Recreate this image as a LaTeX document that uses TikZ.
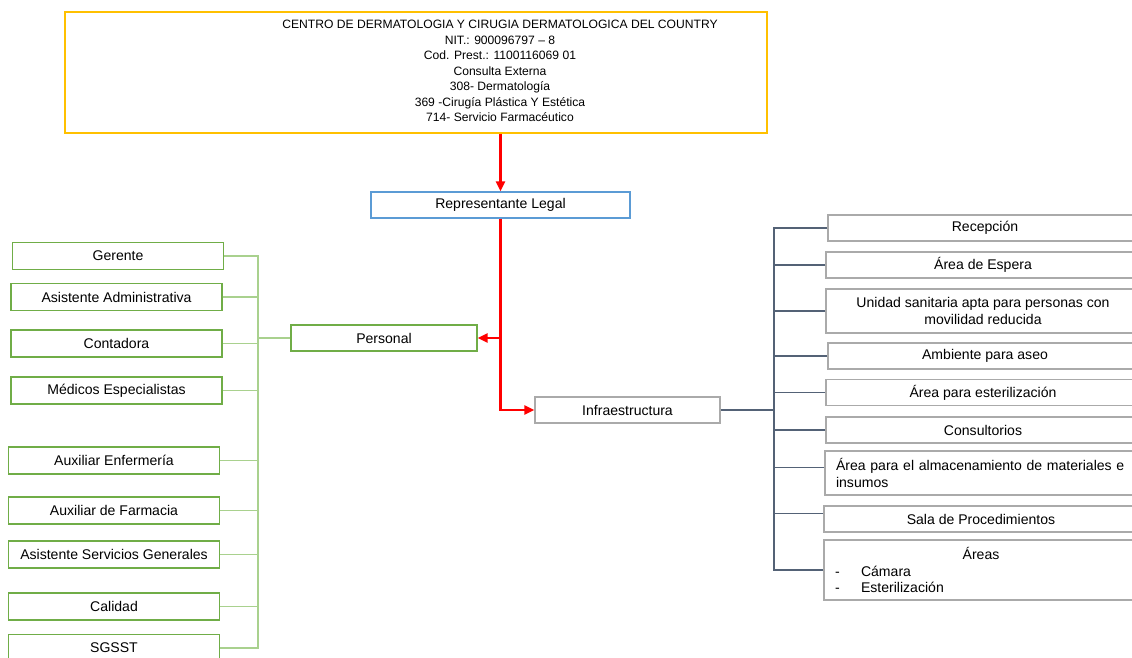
\documentclass[tikz,border=0pt]{standalone}
\usepackage{fontspec}
\setmainfont{Liberation Sans}
\usepackage{tikz}
\definecolor{orgyellow}{RGB}{255, 192, 0}
\definecolor{repblue}{RGB}{91, 155, 213}
\definecolor{staffgreen}{RGB}{112, 173, 71}
\definecolor{linkgreen}{RGB}{169, 209, 142}
\definecolor{roomgray}{RGB}{170, 170, 170}
\definecolor{roomline}{RGB}{84, 98, 118}
\definecolor{arrowred}{RGB}{255, 0, 0}
\usetikzlibrary{arrows.meta, positioning, calc}

\begin{document}
\begin{tikzpicture}[
    x=0.02cm, y=-0.02cm,
    box/.style={rectangle, draw, fill=white, line width=0.8pt, align=center, inner sep=2pt, font=\fontsize{8}{9.5}\selectfont},
    orgbox/.style={box, draw=orgyellow, minimum width=14.04cm, minimum height=2.42cm},
    headbox/.style={box, draw=repblue, minimum width=5.18cm, minimum height=0.52cm},
    staff/.style={box, draw=staffgreen, minimum width=4.22cm, minimum height=0.54cm},
    room/.style={box, draw=roomgray, minimum width=6.28cm, minimum height=0.52cm},
    roomleft/.style={room, align=left, text width=5.84cm, inner xsep=0.22cm},
    redarrow/.style={draw=arrowred, line width=1.4pt, -{Triangle[length=2mm, width=1.8mm]}},
    greenlink/.style={draw=linkgreen, line width=0.9pt},
    graylink/.style={draw=roomline, line width=0.6pt}
]
    \useasboundingbox (0,0) rectangle (1132,657);
    \clip (0,0) rectangle (1132,657);

    \node[orgbox] (org) at (416,72.5) {};
    \node[font=\fontsize{6.9}{8.8}\selectfont, align=center] (orgtext) at (500,71) {CENTRO DE DERMATOLOGIA Y CIRUGIA DERMATOLOGICA DEL COUNTRY\\NIT.: 900096797 – 8\\Cod. Prest.: 1100116069 01\\Consulta Externa\\308- Dermatología\\369 -Cirugía Plástica Y Estética\\714- Servicio Farmacéutico};

    \node[headbox] (rep) at (500.5,205) {Representante Legal};
    \node[staff, minimum width=3.72cm, minimum height=0.52cm] (personal) at (384,338) {Personal};
    \node[box, draw=roomgray, minimum width=3.7cm, minimum height=0.52cm] (infra) at (627.5,410) {Infraestructura};

    \node[staff] (gerente) at (118,256) {Gerente};
    \node[staff] (asistadm) at (116.5,297) {Asistente Administrativa};
    \node[staff] (contadora) at (116.5,343.5) {Contadora};
    \node[staff] (medicos) at (116.5,390.5) {Médicos Especialistas};
    \node[staff] (auxenf) at (114,460.5) {Auxiliar Enfermería};
    \node[staff] (auxfarm) at (114,510.5) {Auxiliar de Farmacia};
    \node[staff] (asistsg) at (114,554.5) {Asistente Servicios Generales};
    \node[staff] (calidad) at (114,606.5) {Calidad};
    \node[staff] (sgsst) at (114,648) {SGSST};

    \node[room] (recepcion) at (985,228) {Recepción};
    \node[room] (espera) at (983,265) {Área de Espera};
    \node[room, minimum height=0.88cm] (sanitaria) at (983,311) {Unidad sanitaria apta para personas con\\movilidad reducida};
    \node[room] (aseo) at (985,356) {Ambiente para aseo};
    \node[room] (esteril) at (983,392.5) {Área para esterilización};
    \node[room] (consult) at (983,430) {Consultorios};
    \node[roomleft, minimum height=0.88cm] (almacen) at (982,473) {Área para el almacenamiento de materiales e\\insumos};
    \node[room] (sala) at (981,519) {Sala de Procedimientos};
    \node[roomleft, minimum height=1.2cm] (areas) at (981,570) {\makebox[\linewidth][c]{Áreas}\\\makebox[0.52cm][l]{-}Cámara\\\makebox[0.52cm][l]{-}Esterilización};

    \coordinate (lspine) at (258,338);
    \coordinate (rspine) at (774,410);

    \draw[redarrow] (org.south -| rep.north) -- (rep.north);
    \draw[redarrow] (rep.south) |- (infra.west);
    \draw[redarrow] (rep.south |- personal.east) -- (personal.east);

    \draw[greenlink] (personal.west) -- (lspine);
    \draw[greenlink] (gerente.east) -| (lspine);
    \draw[greenlink] (asistadm.east) -| (lspine);
    \draw[greenlink] (contadora.east) -| (lspine);
    \draw[greenlink] (medicos.east) -| (lspine);
    \draw[greenlink] (auxenf.east) -| (lspine);
    \draw[greenlink] (auxfarm.east) -| (lspine);
    \draw[greenlink] (asistsg.east) -| (lspine);
    \draw[greenlink] (calidad.east) -| (lspine);
    \draw[greenlink] (sgsst.east) -| (lspine);

    \draw[graylink] (infra.east) -- (rspine);
    \draw[graylink] (recepcion.west) -| (rspine);
    \draw[graylink] (espera.west) -| (rspine);
    \draw[graylink] (sanitaria.west) -| (rspine);
    \draw[graylink] (aseo.west) -| (rspine);
    \draw[graylink] (esteril.west) -| (rspine);
    \draw[graylink] (consult.west) -| (rspine);
    \draw[graylink] ([yshift=3pt]almacen.west) -| (rspine);
    \draw[graylink] ([yshift=3pt]sala.west) -| (rspine);
    \draw[graylink] (areas.west) -| (rspine);
\end{tikzpicture}
\end{document}
